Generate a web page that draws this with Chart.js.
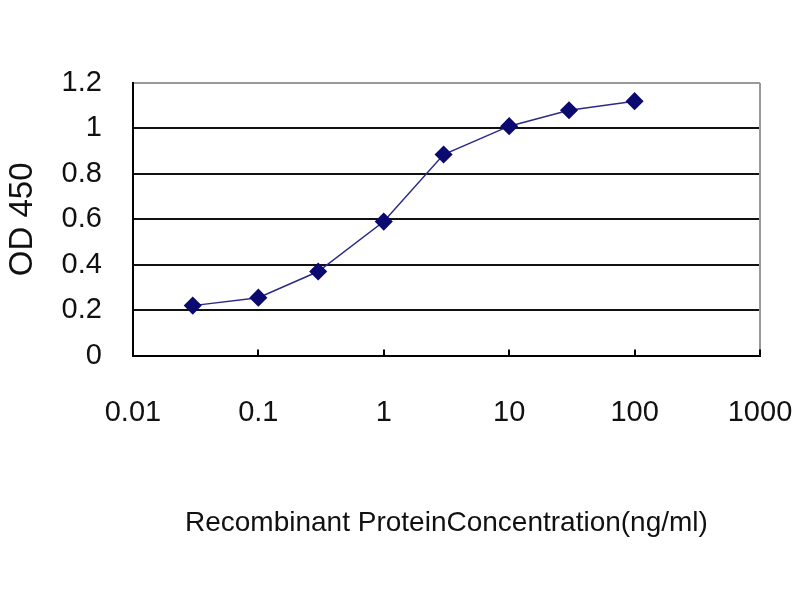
<!DOCTYPE html>
<html>
<head>
<meta charset="utf-8">
<script src="https://cdn.jsdelivr.net/npm/chart.js@4.4.1/dist/chart.umd.min.js"></script>
<style>
  html, body { margin: 0; padding: 0; background: #fff; }
  #wrap { width: 800px; height: 600px; }
</style>
</head>
<body>
<div id="wrap"><canvas id="elisa"></canvas></div>
<script>
// concentration (ng/ml) and OD 450
const concentrations = [0.03, 0.1, 0.3, 1, 3, 10, 30, 100];
const odValues = [0.22, 0.255, 0.37, 0.59, 0.885, 1.01, 1.08, 1.12];
const xTicks = [0.01, 0.1, 1, 10, 100, 1000];
const yTicks = [0, 0.2, 0.4, 0.6, 0.8, 1, 1.2];

const points = concentrations.map((c, i) => ({ x: c, y: odValues[i] }));

// little tick marks pointing up into the plot at each decade
const innerTicks = {
  id: 'innerTicks',
  afterDatasetsDraw(chart) {
    const { ctx, chartArea, scales } = chart;
    ctx.save();
    ctx.strokeStyle = '#000';
    ctx.lineWidth = 2;
    xTicks.slice(1).forEach(v => {
      const px = Math.round(scales.x.getPixelForValue(v));
      ctx.beginPath();
      ctx.moveTo(px, chartArea.bottom);
      ctx.lineTo(px, chartArea.bottom - 6);
      ctx.stroke();
    });
    ctx.restore();
  }
};

const font = 'Arial, "Liberation Sans", sans-serif';

new Chart(document.getElementById('elisa'), {
  type: 'scatter',
  data: {
    datasets: [{
      data: points,
      showLine: true,
      borderColor: '#2a2a8a',
      borderWidth: 1.5,
      pointStyle: 'rectRot',
      pointRadius: 8,
      pointBackgroundColor: '#0a0a70',
      pointBorderColor: '#0a0a70',
      tension: 0
    }]
  },
  options: {
    responsive: true,
    maintainAspectRatio: false,
    animation: false,
    layout: { autoPadding: false, padding: { top: 83, right: 40, left: 3, bottom: 60 } },
    plugins: {
      legend: { display: false },
      tooltip: { enabled: false }
    },
    scales: {
      x: {
        type: 'logarithmic',
        min: 0.01,
        max: 1000,
        afterBuildTicks: s => { s.ticks = xTicks.map(v => ({ value: v })); },
        afterFit: s => { s.paddingLeft = 0; s.paddingRight = 0; },
        ticks: {
          autoSkip: false,
          maxRotation: 0,
          padding: 40,
          color: '#111',
          font: { family: font, size: 29 },
          callback: v => String(v)
        },
        grid: { display: false, drawTicks: false },
        border: { color: '#000', width: 2 },
        title: {
          display: true,
          text: 'Recombinant ProteinConcentration(ng/ml)',
          color: '#111',
          font: { family: font, size: 28 },
          padding: { top: 36, bottom: 0 }
        }
      },
      y: {
        min: 0,
        max: 1.2,
        afterBuildTicks: s => { s.ticks = yTicks.map(v => ({ value: v })); },
        ticks: {
          padding: 31,
          color: '#111',
          font: { family: font, size: 29 },
          callback: v => String(v)
        },
        grid: {
          drawTicks: false,
          color: c => (c.tick && c.tick.value === 1.2 ? '#999' : '#111'),
          lineWidth: 2
        },
        border: { color: '#000', width: 2 },
        title: {
          display: true,
          text: 'OD 450',
          color: '#111',
          font: { family: font, size: 33 },
          padding: { top: 0, bottom: -12 }
        }
      }
    }
  },
  plugins: [innerTicks, {
    id: 'rightEdge',
    beforeDatasetsDraw(chart) {
      const { ctx, chartArea } = chart;
      ctx.save();
      ctx.strokeStyle = '#999';
      ctx.lineWidth = 2;
      ctx.beginPath();
      ctx.moveTo(chartArea.right, chartArea.top);
      ctx.lineTo(chartArea.right, chartArea.bottom);
      ctx.stroke();
      ctx.restore();
    }
  }]
});
</script>
</body>
</html>
